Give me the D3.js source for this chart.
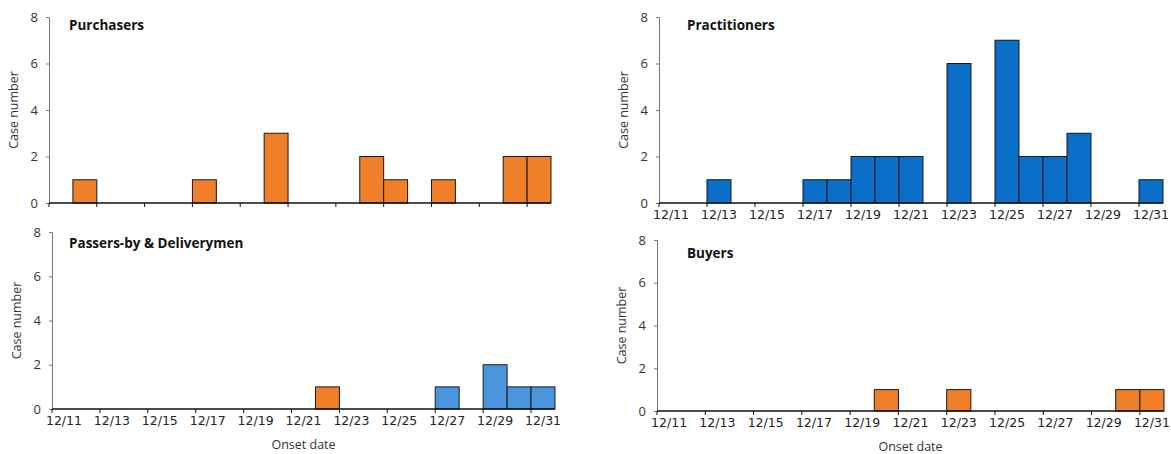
<!DOCTYPE html>
<html>
<head>
<meta charset="utf-8">
<script src="https://cdn.jsdelivr.net/npm/d3@7"></script>
<style>
  body { margin: 0; background: #fff; }
  .tick text { font-family: "DejaVu Sans", sans-serif; font-size: 12.5px; fill: #222; }
  .y-tick text { font-family: "Open Sans", sans-serif; font-size: 13px; fill: #333; }
  .panel-title { font-family: "Open Sans", sans-serif; font-weight: bold; font-size: 13.5px; fill: #111; }
  .axis-title { font-family: "Open Sans", sans-serif; font-size: 12.5px; fill: #333; }
</style>
</head>
<body>
<svg id="chart" width="1171" height="454"></svg>
<script>
// onset dates, one bar per day
var days = ["12/11", "12/12", "12/13", "12/14", "12/15", "12/16", "12/17", "12/18", "12/19", "12/20",
            "12/21", "12/22", "12/23", "12/24", "12/25", "12/26", "12/27", "12/28", "12/29", "12/30", "12/31"];
var labelDays = ["12/11", "12/13", "12/15", "12/17", "12/19", "12/21", "12/23", "12/25", "12/27", "12/29", "12/31"];
var yTicks = [0, 2, 4, 6, 8];

var purchasers    = [0, 1, 0, 0, 0, 0, 1, 0, 0, 3, 0, 0, 0, 2, 1, 0, 1, 0, 0, 2, 2];
var practitioners = [0, 0, 1, 0, 0, 0, 1, 1, 2, 2, 2, 0, 6, 0, 7, 2, 2, 3, 0, 0, 1];
var passersOrange = [0, 0, 0, 0, 0, 0, 0, 0, 0, 0, 0, 1, 0, 0, 0, 0, 0, 0, 0, 0, 0];
var passersBlue   = [0, 0, 0, 0, 0, 0, 0, 0, 0, 0, 0, 0, 0, 0, 0, 0, 1, 0, 2, 1, 1];
var buyers        = [0, 0, 0, 0, 0, 0, 0, 0, 0, 1, 0, 0, 1, 0, 0, 0, 0, 0, 0, 1, 1];

var orange = "#f07f2a", blue = "#0a6fc8", lightBlue = "#4b95dc";

var svg = d3.select("#chart");

// panel frames: x0/x1 is the x axis extent, yTop/yBottom maps 8 and 0
var panels = [
  {title: "Purchasers", x0: 49, x1: 551, yTop: 17, yBot: 203, labels: false, onset: false, titleX: 69, titleY: 30,
   series: [{values: purchasers, color: orange}]},
  {title: "Practitioners", x0: 659, x1: 1163, yTop: 17, yBot: 203, labels: true, onset: false, titleX: 687, titleY: 30,
   series: [{values: practitioners, color: blue}]},
  {title: "Passers-by & Deliverymen", x0: 52, x1: 555, yTop: 232, yBot: 409, labels: true, onset: true, titleX: 69, titleY: 248,
   series: [{values: passersOrange, color: orange}, {values: passersBlue, color: lightBlue}]},
  {title: "Buyers", x0: 657, x1: 1164, yTop: 240, yBot: 411, labels: true, onset: true, titleX: 687, titleY: 258,
   series: [{values: buyers, color: orange}]}
];

panels.forEach(function(p) {
  var g = svg.append("g");

  var x = d3.scaleBand()
    .domain(days)
    .range([p.x0, p.x1])
    .padding(0);
  var y = d3.scaleLinear()
    .domain([0, 8])
    .range([p.yBot, p.yTop]);

  // bars
  p.series.forEach(function(s) {
    g.append("g").selectAll("rect")
      .data(days.map(function(d, i) { return {day: d, value: s.values[i]}; })
        .filter(function(d) { return d.value > 0; }))
      .enter().append("rect")
      .attr("x", function(d) { return x(d.day); })
      .attr("width", x.bandwidth())
      .attr("y", function(d) { return y(d.value); })
      .attr("height", function(d) { return y(0) - y(d.value); })
      .attr("fill", s.color)
      .attr("stroke", "#1a1a1a")
      .attr("stroke-width", 1);
  });

  // y axis
  var yAxis = g.append("g")
    .attr("class", "y-tick")
    .attr("transform", "translate(" + p.x0 + ",0)")
    .call(d3.axisLeft(y).tickValues(yTicks).tickSize(3).tickPadding(8));
  yAxis.select(".domain").attr("stroke", "#777");
  yAxis.selectAll(".tick line").attr("stroke", "#777");

  // x axis: tick marks at band starts every two days, labels centred on the day
  var xAxis = g.append("g")
    .attr("transform", "translate(0," + p.yBot + ")")
    .call(d3.axisBottom(x).tickValues(labelDays).tickSize(4).tickPadding(3)
      .tickFormat(function(d) { return p.labels ? d : ""; }));
  xAxis.selectAll(".tick").attr("transform", function(d) { return "translate(" + x(d) + ",0)"; });
  xAxis.selectAll(".tick text").attr("x", x.bandwidth() / 2);
  xAxis.select(".domain").attr("stroke", "#111").attr("stroke-width", 1.5)
    .attr("d", "M" + p.x0 + ",0H" + p.x1);
  xAxis.selectAll(".tick line").attr("stroke", "#111");

  g.append("text")
    .attr("class", "panel-title")
    .attr("x", p.titleX)
    .attr("y", p.titleY)
    .text(p.title);

  g.append("text")
    .attr("class", "axis-title")
    .attr("text-anchor", "middle")
    .attr("transform", "translate(" + (p.x0 - 31) + "," + ((p.yTop + p.yBot) / 2) + ") rotate(-90)")
    .text("Case number");

  if (p.onset) {
    g.append("text")
      .attr("class", "axis-title")
      .attr("text-anchor", "middle")
      .attr("x", (p.x0 + p.x1) / 2)
      .attr("y", p.yBot + 40)
      .text("Onset date");
  }
});
</script>
</body>
</html>
